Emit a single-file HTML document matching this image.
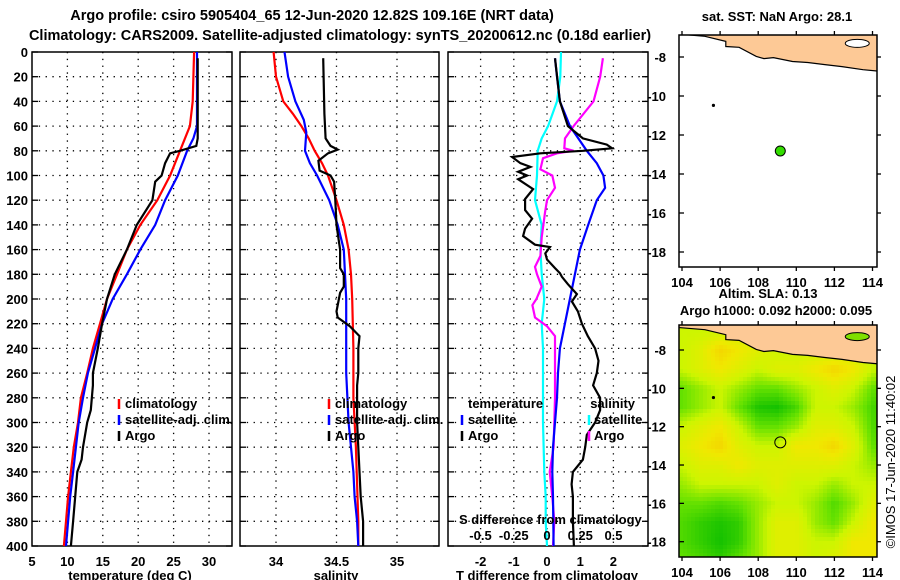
<!DOCTYPE html>
<html><head><meta charset="utf-8">
<style>
html,body{margin:0;padding:0;background:#fff;}
svg{display:block;font-family:"Liberation Sans",Arial,sans-serif;font-weight:bold;}
text{font-size:13px;fill:#000;}
</style></head>
<body>
<svg id="fig" width="900" height="580" viewBox="0 0 900 580" xmlns="http://www.w3.org/2000/svg">
<text x="312" y="20" text-anchor="middle" style="font-size:14.5px">Argo profile: csiro 5905404_65 12-Jun-2020 12.82S 109.16E (NRT data)</text>
<text x="340" y="40" text-anchor="middle" style="font-size:14.5px">Climatology: CARS2009. Satellite-adjusted climatology: synTS_20200612.nc (0.18d earlier)</text>
<text x="777" y="21" text-anchor="middle">sat. SST: NaN Argo: 28.1</text>
<text x="768" y="298" text-anchor="middle">Altim. SLA: 0.13</text>
<text x="776" y="315" text-anchor="middle">Argo h1000: 0.092 h2000: 0.095</text>
<text transform="translate(895,462) rotate(-90)" text-anchor="middle" style="font-weight:normal;font-size:13px">©IMOS 17-Jun-2020 11:40:02</text>
<g id="layer"></g>
</svg>
<script>
// ---------- data ----------
const depthTicks=[0,20,40,60,80,100,120,140,160,180,200,220,240,260,280,300,320,340,360,380,400];
const tTicks=[5,10,15,20,25,30];
const sTicks=[34,34.5,35];
const dTTicks=[-2,-1,0,1,2];
const dSTicks=[-0.5,-0.25,0,0.25,0.5];
const dSTickLabels=["-0.5","-0.25","0","0.25","0.5"];

const tClimDepth=[0,40,60,80,100,120,140,160,180,200,220,240,260,280,300,320,340,360,380,400];
const tClimVal=[27.9,27.7,27.3,25.9,24.5,22.7,20.3,18.4,17.0,15.6,14.6,13.6,12.8,11.9,11.5,10.9,10.5,10.1,9.8,9.5];
const tSatDepth=[0,40,60,70,80,100,120,140,160,180,200,220,240,260,280,300,320,340,360,380,400];
const tSatVal=[28.3,28.3,28.3,27.8,26.9,25.6,23.8,22.4,20.3,18.4,16.4,14.9,13.9,12.9,12.2,11.6,11.2,10.8,10.4,10.1,9.8];
const tArgoDepth=[5,40,70,76,80,82,90,100,105,120,140,160,180,200,220,240,260,270,290,300,320,330,340,360,380,400];
const tArgoVal=[28.4,28.4,28.4,28.2,25.9,24.5,23.8,23.3,22.4,22.0,19.8,18.4,16.7,15.6,14.9,14.3,13.6,13.6,13.3,12.8,12.2,12.0,11.4,11.1,10.8,10.5];

const sClimDepth=[0,20,40,50,60,70,80,90,100,120,140,160,180,200,240,280,320,380,400];
const sClimVal=[33.98,34.0,34.06,34.14,34.21,34.27,34.32,34.38,34.43,34.50,34.56,34.60,34.62,34.63,34.64,34.64,34.66,34.68,34.68];
const sSatDepth=[0,20,40,55,65,80,90,100,120,140,160,180,200,260,280,300,320,340,360,380,400];
const sSatVal=[34.07,34.10,34.16,34.23,34.25,34.24,34.28,34.34,34.44,34.51,34.56,34.57,34.58,34.58,34.59,34.60,34.62,34.64,34.65,34.67,34.68];
const sArgoDepth=[5,50,70,76,79,82,88,96,100,105,120,140,160,175,180,190,195,210,215,222,230,240,260,270,300,340,360,380,400];
const sArgoVal=[34.39,34.40,34.41,34.45,34.51,34.43,34.35,34.36,34.45,34.48,34.49,34.50,34.53,34.53,34.56,34.56,34.53,34.50,34.51,34.61,34.69,34.68,34.68,34.67,34.67,34.69,34.70,34.72,34.72];

const dTSatDepth=[5,20,40,60,80,90,100,110,120,140,160,180,200,220,240,260,280,300,320,340,360,400];
const dTSatVal=[0.24,0.30,0.39,0.69,1.20,1.50,1.70,1.75,1.50,1.24,0.99,0.84,0.69,0.54,0.39,0.33,0.30,0.24,0.18,0.16,0.18,0.20];
const dTArgoDepth=[5,40,60,70,75,78,80,82,85,90,93,97,100,103,111,119,128,135,143,149,156,158,163,168,175,179,182,188,196,202,210,220,230,240,250,260,270,280,290,300,310,320,330,340,350,360,380,400];
const dTArgoVal=[0.24,0.39,0.63,1.08,1.80,1.96,1.08,-0.2,-1.05,-0.8,-0.5,-0.87,-0.6,-0.87,-0.42,-0.66,-0.66,-0.45,-0.66,-0.72,-0.36,0.09,-0.05,0.0,0.24,0.39,0.45,0.63,0.9,0.75,0.93,1.05,1.23,1.45,1.55,1.5,1.39,1.6,1.6,1.45,1.2,1.15,1.08,0.78,0.74,0.78,0.78,0.81];
const dSSatDepth=[0,20,40,60,70,80,100,120,140,160,180,200,220,240,280,300,340,360,380,400];
const dSSatVal=[0.105,0.10,0.075,0.008,-0.04,-0.07,-0.075,-0.09,-0.04,-0.05,-0.04,-0.02,-0.04,-0.03,-0.03,-0.03,-0.02,-0.01,-0.01,0.0];
const dSArgoDepth=[5,20,40,60,70,78,80,82,86,95,100,110,120,130,150,165,174,180,190,200,205,215,222,230,260,280,300,320,340,360,380,400];
const dSArgoVal=[0.42,0.40,0.35,0.20,0.135,0.13,0.20,0.075,-0.03,-0.05,0.04,0.06,0.0,-0.015,-0.04,-0.05,-0.09,-0.075,-0.04,-0.08,-0.11,-0.09,0.0,0.06,0.06,0.06,0.055,0.05,0.02,0.04,0.055,0.045];

const mapLonTicks=[104,106,108,110,112,114];
const mapLatTicks=[-8,-10,-12,-14,-16,-18];
const coastLon=[103.5,105.2,106.3,106.3,107.0,107.9,108.3,108.8,109.8,110.6,111.5,112.4,113.5,114.6];
const coastLat=[-6.8,-6.94,-7.2,-7.46,-7.5,-7.97,-8.08,-8.03,-8.23,-8.28,-8.39,-8.49,-8.65,-8.75];
const argoLon=109.16, argoLat=-12.82;
// SLA field rows lat -7..-19, cols lon 104..114 (0=low green, 4=high orange)
const slaLats=[-7,-8,-9,-10,-11,-12,-13,-14,-15,-16,-17,-18,-19];
const slaLons=[104,105,106,107,108,109,110,111,112,113,114];
const slaGrid=[
[2,2,2,2,2,2,2,2,2,2,2],
[2,2.5,3.5,3,2.5,2,2,2,2,2,1.5],
[2,2.5,3,2.5,2,2.5,2.5,3,3.5,3,2],
[1,1.5,2,1.5,1,1,1.5,2,2.5,2,1],
[1,1.5,2,1,0.3,0.2,0.7,2,2,1.5,0.7],
[2,2.5,3,2,1,1,1.5,2.5,2.5,2,0.8],
[2.5,3,3.5,2.5,2,2,3,3,3.5,2.5,1],
[2,2.5,2.5,3,2.5,2.5,2.5,2.5,2.5,2,1.5],
[1.5,2,2,2,2,2.5,2,2,1.5,2,2],
[1,1,0.8,1,1.5,2,2,1.5,0.8,1.5,2.5],
[0.8,0.5,0.3,0.5,1.5,2.5,2.5,1.5,1,2,3],
[0.8,0.5,0.2,0.5,1.5,2.5,2.5,2,2,3,3],
[1,0.8,0.5,1,1.5,2.5,2.5,2,2.5,3,3]];

// ---------- helpers ----------
const NS="http://www.w3.org/2000/svg";
const layer=document.getElementById('layer');
function mk(tag,attrs,parent){const e=document.createElementNS(NS,tag);for(const k in attrs)e.setAttribute(k,attrs[k]);(parent||layer).appendChild(e);return e;}
const PT=52, PB=546;
const yD=d=>PT+d*(PB-PT)/400;
const xT=v=>32+(v-5)*7.08;
const xS=v=>276+(v-34)*121;
const xDT=v=>547+v*33.2;
const xDS=v=>547+v*133;

function panel(name,x0,x1,xticks,xf){
  const g=mk('g',{});
  
  
  depthTicks.forEach(d=>{ if(d>0&&d<400){const l=mk('line',{x1:x0,x2:x1,y1:yD(d),y2:yD(d),stroke:'#000','stroke-width':1.3,'stroke-dasharray':'1.3,5.5'},g);
    }
    mk('line',{x1:x0,x2:x0+6,y1:yD(d),y2:yD(d),stroke:'#000','stroke-width':1.3},g);
    mk('line',{x1:x1-6,x2:x1,y1:yD(d),y2:yD(d),stroke:'#000','stroke-width':1.3},g);});
  xticks.forEach(v=>{const x=xf(v); if(x>x0+1&&x<x1-1){const l=mk('line',{x1:x,x2:x,y1:PT,y2:PB,stroke:'#000','stroke-width':1.3,'stroke-dasharray':'1.3,5.5'},g);
    }});
  const r=mk('rect',{x:x0,y:PT,width:x1-x0,height:PB-PT,fill:'none',stroke:'#000','stroke-width':1.5},g);
  
  return g;
}
function series(name,ds,vs,xf,color,g){
  const p=ds.map((d,i)=>xf(vs[i]).toFixed(1)+','+yD(d).toFixed(1)).join(' ');
  const e=mk('polyline',{points:p,fill:'none',stroke:color,'stroke-width':2.2,'stroke-linejoin':'miter'},g);
  
  
}
function txt(s,x,y,anchor,name,g,extra){const t=mk('text',Object.assign({x:x,y:y,'text-anchor':anchor||'start'},extra||{}),g);t.textContent=s;
  return t;}
function legendMark(x,y,color,g){const l=mk('line',{x1:x,x2:x,y1:y-9,y2:y+1,stroke:color,'stroke-width':2.5},g);
  }

// ---------- panel 1: temperature ----------
const g1=panel('temperature-panel',32,232,tTicks,xT);
depthTicks.forEach(d=>txt(String(d),28,yD(d)+5,'end','depth-tick-label',g1));
tTicks.forEach(v=>txt(String(v),xT(v),566,'middle','temperature-tick-label',g1));
txt('temperature (deg C)',130,580,'middle','x-axis-title-temperature',g1);
series('temp-climatology-line',tClimDepth,tClimVal,xT,'#ff0000',g1);
series('temp-satellite-line',tSatDepth,tSatVal,xT,'#0000ff',g1);
series('temp-argo-line',tArgoDepth,tArgoVal,xT,'#000000',g1);
[['climatology','#f00'],['satellite-adj. clim.','#00f'],['Argo','#000']].forEach((e,i)=>{legendMark(119,408+i*16,e[1],g1);txt(e[0],125,408+i*16,'start','legend-entry',g1);});

// ---------- panel 2: salinity ----------
const g2=panel('salinity-panel',240,439,sTicks,xS);
sTicks.forEach(v=>txt(String(v),xS(v),566,'middle','salinity-tick-label',g2));
txt('salinity',336,580,'middle','x-axis-title-salinity',g2);
series('sal-climatology-line',sClimDepth,sClimVal,xS,'#ff0000',g2);
series('sal-satellite-line',sSatDepth,sSatVal,xS,'#0000ff',g2);
series('sal-argo-line',sArgoDepth,sArgoVal,xS,'#000000',g2);
[['climatology','#f00'],['satellite-adj. clim.','#00f'],['Argo','#000']].forEach((e,i)=>{legendMark(329,408+i*16,e[1],g2);txt(e[0],335,408+i*16,'start','legend-entry',g2);});

// ---------- panel 3: differences ----------
const g3=panel('difference-panel',448,648,dTTicks,xDT);
dTTicks.forEach(v=>txt(String(v),xDT(v),566,'middle','dt-tick-label',g3));
txt('T difference from climatology',547,580,'middle','x-axis-title-dt',g3);
series('dS-satellite-line',dSSatDepth,dSSatVal,xDS,'#00ffff',g3);
series('dS-argo-line',dSArgoDepth,dSArgoVal,xDS,'#ff00ff',g3);
series('dT-satellite-line',dTSatDepth,dTSatVal,xDT,'#0000ff',g3);
series('dT-argo-line',dTArgoDepth,dTArgoVal,xDT,'#000000',g3);
txt('temperature',468,408,'start','legend-title-temperature',g3);
txt('salinity',635,408,'end','legend-title-salinity',g3);
legendMark(462,424,'#00f',g3);txt('satellite',468,424,'start','legend-entry',g3);
legendMark(462,440,'#000',g3);txt('Argo',468,440,'start','legend-entry',g3);
legendMark(589,424,'#0ff',g3);txt('satellite',594,424,'start','legend-entry',g3);
legendMark(589,440,'#f0f',g3);txt('Argo',594,440,'start','legend-entry',g3);
txt('S difference from climatology',459,524,'start','ds-axis-title',g3);
dSTicks.forEach((v,i)=>txt(dSTickLabels[i],xDS(v),540,'middle','ds-tick-label',g3));

// ---------- maps ----------
const MX0=679,MX1=877;
const xL=lon=>682+(lon-104)*19.05;
function drawMap(name,top,bot,y8,sc,withField){
  const yL=lat=>y8+(-8-lat)*sc;
  const g=mk('g',{});
  
  
  const cid='clip'+name;
  const cp=mk('clipPath',{id:cid},g);mk('rect',{x:MX0,y:top,width:MX1-MX0,height:bot-top},cp);
  const inner=mk('g',{'clip-path':'url(#'+cid+')'},g);
  if(withField){
    const ramp=[[0,185,0],[100,225,0],[205,245,0],[240,232,0],[246,196,0]];
    const col=v=>{v=Math.max(0,Math.min(4,v));const i=Math.min(3,Math.floor(v)),f=v-i;const a=ramp[i],b=ramp[i+1];
      return 'rgb('+a.map((c,k)=>Math.round(c+(b[k]-c)*f)).join(',')+')';};
    const step=4;
    for(let y=top;y<bot;y+=step){for(let x=MX0;x<MX1;x+=step){
      const lon=104+(x+step/2-682)/19.05, lat=-8-(y+step/2-y8)/sc;
      let fi=(lon-slaLons[0]); fi=Math.max(0,Math.min(slaLons.length-1.001,fi));
      let fj=(slaLats[0]-lat); fj=Math.max(0,Math.min(slaLats.length-1.001,fj));
      const i=Math.floor(fi),j=Math.floor(fj),a=fi-i,b=fj-j;
      const v=slaGrid[j][i]*(1-a)*(1-b)+slaGrid[j][i+1]*a*(1-b)+slaGrid[j+1][i]*(1-a)*b+slaGrid[j+1][i+1]*a*b;
      mk('rect',{x:x,y:y,width:step,height:step,fill:col(v)},inner);
    }}
  }
  const pts=coastLon.map((l,i)=>xL(l).toFixed(1)+','+yL(coastLat[i]).toFixed(1));
  const land=mk('polygon',{points:pts.join(' ')+' '+xL(114.6)+','+(top-5)+' '+xL(103.5)+','+(top-5),fill:'#fdc996',stroke:'#000','stroke-width':1.2},inner);
  
  const hole=mk('ellipse',{cx:xL(113.2),cy:yL(-7.3),rx:12,ry:4,fill:withField?'#7fe000':'#fff',stroke:'#000','stroke-width':1},inner);
  
  const isl=mk('circle',{cx:xL(105.65),cy:yL(-10.48),r:1.6,fill:'#000'},inner);
  
  const dot=mk('circle',{cx:xL(argoLon),cy:yL(argoLat),r:withField?5.5:5,fill:withField?'none':'#33dd00',stroke:'#000','stroke-width':1},g);
  
  const fr=mk('rect',{x:MX0,y:top,width:MX1-MX0,height:bot-top,fill:'none',stroke:'#000','stroke-width':1.5},g);
  
  mapLatTicks.forEach(l=>{const y=yL(l);mk('line',{x1:MX0,x2:MX0+5,y1:y,y2:y,stroke:'#000','stroke-width':1.3},g);
    mk('line',{x1:MX1,x2:MX1+4,y1:y,y2:y,stroke:'#000','stroke-width':1.3},g);
    txt(String(l),666,y+5,'end','map-lat-tick-label',g);});
  mapLonTicks.forEach(l=>{const x=xL(l);mk('line',{x1:x,x2:x,y1:top,y2:top-4,stroke:'#000','stroke-width':1.3},g);
    mk('line',{x1:x,x2:x,y1:bot,y2:bot+4,stroke:'#000','stroke-width':1.3},g);
    txt(String(l),x,bot+20,'middle','map-lon-tick-label',g);});
}
drawMap('sst-map',35,267,57,19.5,false);
drawMap('sla-map',325,557,350,19.17,true);
</script>
</body></html>
